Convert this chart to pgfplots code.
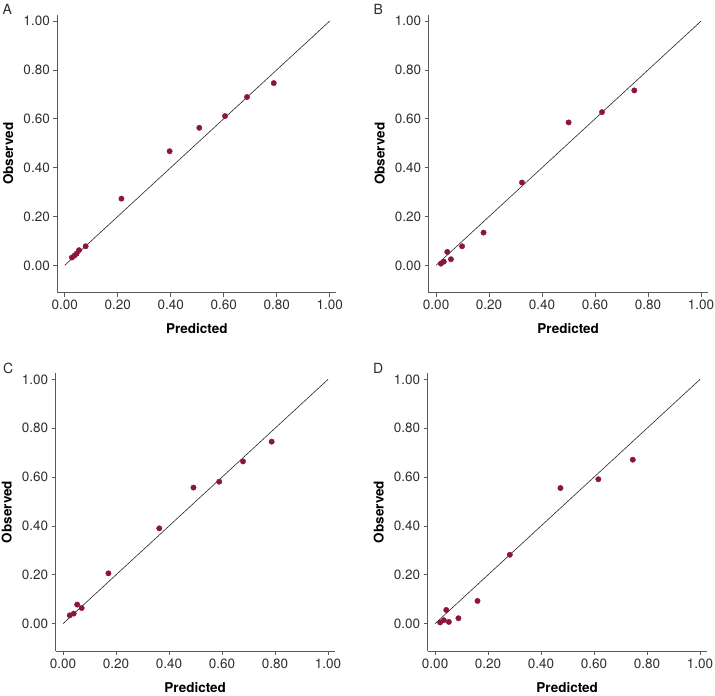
\documentclass[border=0pt]{standalone}
\usepackage{fontspec}
\setmainfont{TeX Gyre Heros}
\usepackage{pgfplots}
\pgfplotsset{compat=1.18}

\definecolor{dotred}{RGB}{140,22,58}
\definecolor{spine}{RGB}{90,90,90}
\definecolor{labgray}{RGB}{45,45,45}

\pgfplotsset{
  calib/.style={
    scale only axis,
    width=279pt, height=278pt,
    xmin=-0.028, xmax=1.025,
    ymin=-0.112, ymax=1.026,
    axis lines=left,
    axis line style={-, spine, line width=0.8pt},
    xtick={0,0.2,...,1.0}, ytick={0,0.2,...,1.0},
    tick align=outside, major tick length=4pt,
    tick style={spine, line width=0.8pt},
    /pgf/number format/assume math mode=true,
    xticklabel style={/pgf/number format/.cd, fixed, fixed zerofill, precision=2},
    yticklabel style={/pgf/number format/.cd, fixed, fixed zerofill, precision=2},
    tick label style={font=\fontsize{13.5}{15}\selectfont, text=labgray},
    xlabel={Predicted}, ylabel={Observed},
    label style={font=\fontsize{13.5}{16}\selectfont\bfseries, text=black},
    xlabel style={at={(axis description cs:0.5,-0.13)}, anchor=center},
    ylabel style={at={(axis description cs:-0.176,0.5)}, anchor=center},
  },
  diag/.style={no marks, black!85, line width=0.6pt},
  dots/.style={only marks, mark=*, mark size=2.7pt, mark options={fill=dotred, draw=dotred}},
}

\begin{document}
\begin{tikzpicture}
\useasboundingbox (0,0) rectangle (715pt,696pt);

% A
\begin{axis}[calib, at={(57.3pt,403.3pt)}, anchor=south west]
\addplot[diag] coordinates {(0,0) (1,1)};
\addplot[dots] coordinates {
 (0.027,0.032) (0.037,0.040) (0.045,0.048) (0.054,0.062) (0.079,0.078)
 (0.214,0.273) (0.396,0.467) (0.508,0.563) (0.605,0.611) (0.688,0.689) (0.789,0.746)
};
\end{axis}

% B
\begin{axis}[calib, at={(428.7pt,403.3pt)}, anchor=south west]
\addplot[diag] coordinates {(0,0) (1,1)};
\addplot[dots] coordinates {
 (0.018,0.007) (0.029,0.015) (0.042,0.055) (0.056,0.025) (0.098,0.078)
 (0.179,0.134) (0.324,0.339) (0.500,0.585) (0.626,0.627) (0.748,0.716)
};
\end{axis}

% C
\begin{axis}[calib, at={(55.7pt,45pt)}, anchor=south west]
\addplot[diag] coordinates {(0,0) (1,1)};
\addplot[dots] coordinates {
 (0.025,0.034) (0.040,0.041) (0.053,0.078) (0.070,0.064) (0.171,0.206)
 (0.363,0.390) (0.492,0.557) (0.589,0.581) (0.679,0.664) (0.787,0.745)
};
\end{axis}

% D
\begin{axis}[calib, at={(427.7pt,45pt)}, anchor=south west]
\addplot[diag] coordinates {(0,0) (1,1)};
\addplot[dots] coordinates {
 (0.019,0.005) (0.033,0.014) (0.042,0.056) (0.052,0.007) (0.088,0.022)
 (0.160,0.093) (0.282,0.282) (0.473,0.555) (0.616,0.591) (0.746,0.671)
};
\end{axis}

\node[font=\fontsize{14}{16}\selectfont, text=labgray] at (7.3pt,686.7pt) {A};
\node[font=\fontsize{14}{16}\selectfont, text=labgray] at (378.3pt,686.7pt) {B};
\node[font=\fontsize{14}{16}\selectfont, text=labgray] at (8.3pt,327.7pt) {C};
\node[font=\fontsize{14}{16}\selectfont, text=labgray] at (378.3pt,327.7pt) {D};
\end{tikzpicture}
\end{document}
